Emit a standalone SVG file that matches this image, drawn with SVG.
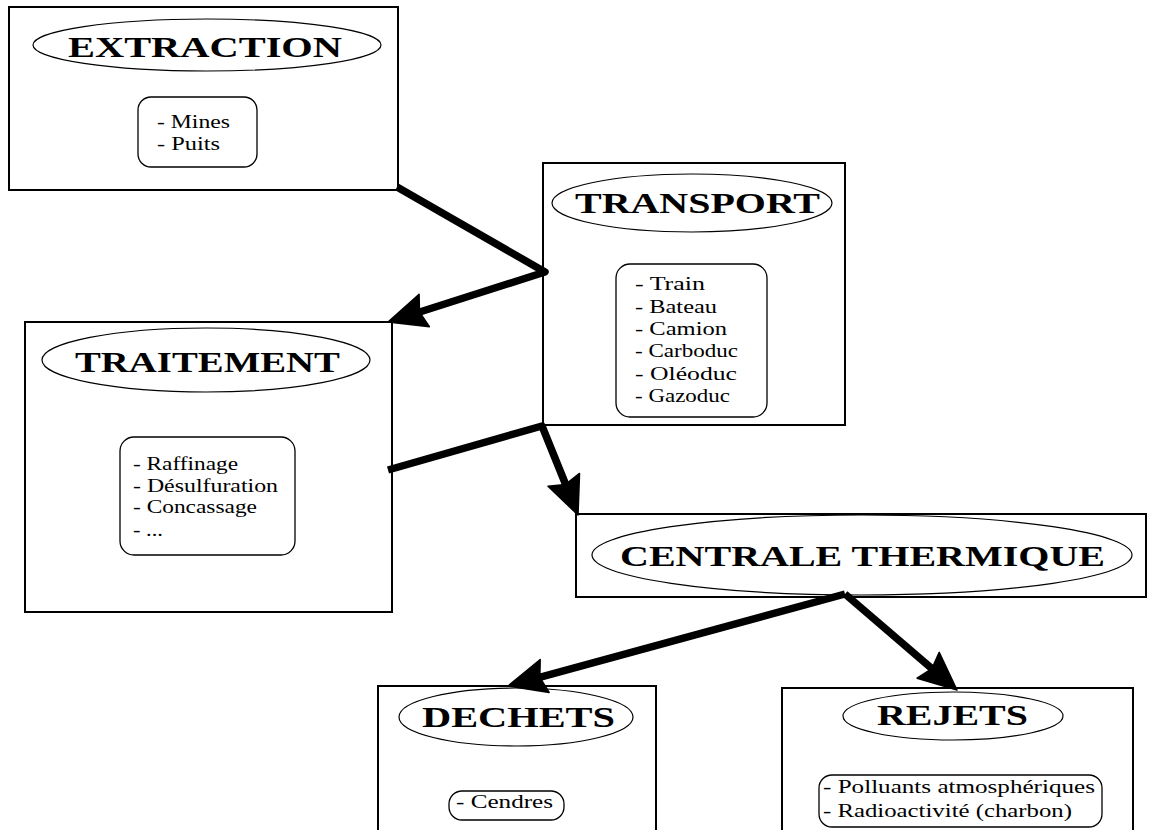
<svg xmlns="http://www.w3.org/2000/svg" width="1152" height="830" viewBox="0 0 1152 830">
<style>
.box{fill:#fff;stroke:#000;stroke-width:2}
.ell{fill:#fff;stroke:#000;stroke-width:1.2}
.inner{fill:#fff;stroke:#000;stroke-width:1.3}
.title{font-family:"Liberation Serif","Times New Roman",serif;font-weight:bold;font-size:30px;fill:#000}
.item{font-family:"Liberation Serif","Times New Roman",serif;font-size:18px;fill:#000}
.conn{fill:none;stroke:#000;stroke-width:7.5;stroke-linejoin:round}
.head{fill:#000;stroke:#000;stroke-width:1.5;stroke-linejoin:round}
</style>
<defs>
<path id="ah" d="M0,0 L-38,-17 L-33,0 L-38,17 Z"/>
</defs>
<rect width="1152" height="830" fill="#fff"/>

<g id="extraction">
<rect class="box" x="9" y="7" width="389" height="183"/>
<ellipse class="ell" cx="207" cy="45" rx="174" ry="26"/>
<text class="title" x="68" y="57" textLength="274" lengthAdjust="spacingAndGlyphs">EXTRACTION</text>
<rect class="inner" x="138" y="97" width="119" height="70" rx="13"/>
<text class="item" x="157" y="128" textLength="73" lengthAdjust="spacingAndGlyphs">- Mines</text>
<text class="item" x="157" y="150" textLength="63" lengthAdjust="spacingAndGlyphs">- Puits</text>
</g>

<g id="transport">
<rect class="box" x="543" y="163" width="302" height="262"/>
<ellipse class="ell" cx="692" cy="203" rx="140" ry="29"/>
<text class="title" x="575" y="213" textLength="245" lengthAdjust="spacingAndGlyphs">TRANSPORT</text>
<rect class="inner" x="616" y="264" width="151" height="153" rx="14"/>
<text class="item" x="635" y="290" textLength="70" lengthAdjust="spacingAndGlyphs">- Train</text>
<text class="item" x="635" y="313" textLength="82" lengthAdjust="spacingAndGlyphs">- Bateau</text>
<text class="item" x="635" y="335" textLength="92" lengthAdjust="spacingAndGlyphs">- Camion</text>
<text class="item" x="635" y="357" textLength="103" lengthAdjust="spacingAndGlyphs">- Carboduc</text>
<text class="item" x="635" y="380" textLength="102" lengthAdjust="spacingAndGlyphs">- Oléoduc</text>
<text class="item" x="635" y="402" textLength="95" lengthAdjust="spacingAndGlyphs">- Gazoduc</text>
</g>

<g id="traitement">
<rect class="box" x="25" y="322" width="367" height="290"/>
<ellipse class="ell" cx="206" cy="360" rx="164" ry="32"/>
<text class="title" x="75" y="372" textLength="265" lengthAdjust="spacingAndGlyphs">TRAITEMENT</text>
<rect class="inner" x="120" y="437" width="175" height="118" rx="14"/>
<text class="item" x="133" y="470" textLength="105" lengthAdjust="spacingAndGlyphs">- Raffinage</text>
<text class="item" x="133" y="492" textLength="145" lengthAdjust="spacingAndGlyphs">- Désulfuration</text>
<text class="item" x="133" y="513" textLength="124" lengthAdjust="spacingAndGlyphs">- Concassage</text>
<text class="item" x="133" y="536" textLength="30" lengthAdjust="spacingAndGlyphs">- ...</text>
</g>

<g id="centrale">
<rect class="box" x="576" y="514" width="570" height="83"/>
<ellipse class="ell" cx="862" cy="555" rx="270" ry="40"/>
<text class="title" x="620" y="566" textLength="485" lengthAdjust="spacingAndGlyphs">CENTRALE THERMIQUE</text>
</g>

<g id="dechets">
<rect class="box" x="378" y="686" width="278" height="150"/>
<ellipse class="ell" cx="516" cy="717" rx="117" ry="29"/>
<text class="title" x="422" y="727" textLength="193" lengthAdjust="spacingAndGlyphs">DECHETS</text>
<rect class="inner" x="449" y="791" width="115" height="29" rx="13"/>
<text class="item" x="456" y="808" textLength="97" lengthAdjust="spacingAndGlyphs">- Cendres</text>
</g>

<g id="rejets">
<rect class="box" x="782" y="688" width="351" height="150"/>
<ellipse class="ell" cx="953" cy="716" rx="110" ry="24"/>
<text class="title" x="877" y="725" textLength="151" lengthAdjust="spacingAndGlyphs">REJETS</text>
<rect class="inner" x="819" y="775" width="283" height="52" rx="13"/>
<text class="item" x="823" y="793" textLength="272" lengthAdjust="spacingAndGlyphs">- Polluants atmosphériques</text>
<text class="item" x="823" y="817" textLength="249" lengthAdjust="spacingAndGlyphs">- Radioactivité (charbon)</text>
</g>

<g id="connectors">
<path class="conn" d="M397,187 L545,272 L415,313.5"/>
<path class="conn" d="M388,470 L542,426 L567.5,489"/>
<path class="conn" d="M845,594 L535,678.6"/>
<path class="conn" d="M845,594 L935.7,671.8"/>
<use href="#ah" class="head" transform="translate(388,322) rotate(162.4)"/>
<use href="#ah" class="head" transform="translate(578,515) rotate(68)"/>
<use href="#ah" class="head" transform="translate(508,686) rotate(164.75)"/>
<use href="#ah" class="head" transform="translate(957,690) rotate(40.6)"/>
</g>
</svg>
